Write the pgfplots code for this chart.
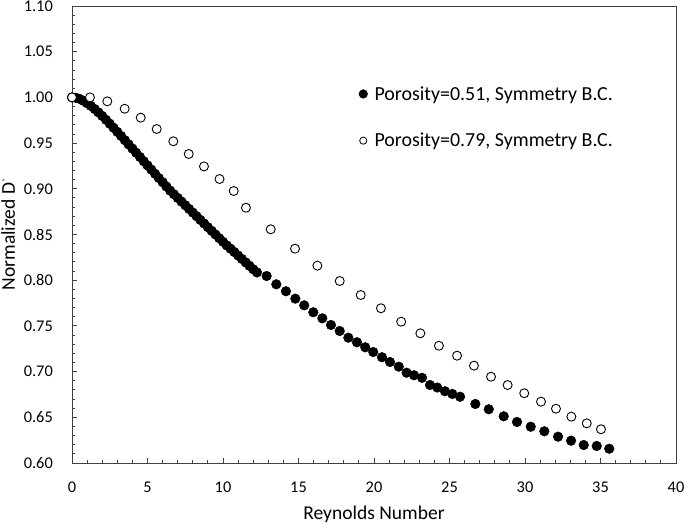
\documentclass[border=0pt]{standalone}
\usepackage{pgfplots}
\pgfplotsset{compat=1.18}
\usepackage{fontspec}
\setmainfont{Carlito}
\definecolor{axgray}{HTML}{404040}
\pgfplotsset{dotlegend/.style={legend image code/.code={\draw[##1] plot coordinates {(0cm,0cm)};}}}
\begin{document}
\begin{tikzpicture}
\begin{axis}[
  scale only axis, width=604bp, height=457bp,
  xmin=0, xmax=40, ymin=0.6, ymax=1.1, clip=false,
  xtick={0,5,10,15,20,25,30,35,40},
  ytick={0.60,0.65,0.70,0.75,0.80,0.85,0.90,0.95,1.00,1.05,1.10},
  yticklabels={0.60,0.65,0.70,0.75,0.80,0.85,0.90,0.95,1.00,1.05,1.10},
  minor x tick num=4, minor y tick num=4,
  tick align=inside, tick pos=left,
  major tick length=5.5bp, minor tick length=3.5bp,
  axis line style={axgray, line width=0.9bp},
  every tick/.style={axgray, line width=0.9bp},
  /pgf/number format/assume math mode=true,
  ticklabel style={font=\fontsize{16.4}{20}\selectfont, inner sep=0pt},
  xticklabel style={yshift=-19bp},
  yticklabel style={xshift=-19bp},
  xlabel={Reynolds Number},
  ylabel={Normalized D\kern0.6bp\raisebox{4bp}{\fontsize{12}{12}\selectfont\textasciigrave}},
  label style={font=\fontsize{19.6}{24}\selectfont},
  xlabel style={at={(axis description cs:0.5,-0.1247)}, anchor=base},
  ylabel style={at={(axis description cs:-0.0945,0.5)}, anchor=base},
  legend style={draw=none, fill=none, inner sep=0pt, at={(axis description cs:0.4748,0.829)}, anchor=north west,
    font=\fontsize{20}{24}\selectfont, row sep=27.5bp, column sep=5bp,
    nodes={inner sep=2bp}},
  legend cell align=left,
]
\addlegendimage{only marks, mark=*, mark size=4.3bp, mark options={fill=black, draw=black, line width=0.5bp}, dotlegend}
\addlegendentry{Porosity=0.51, Symmetry B.C.}
\addlegendimage{only marks, mark=*, mark size=3.6bp, mark options={fill=white, draw=black, line width=0.8bp}, dotlegend}
\addlegendentry{Porosity=0.79, Symmetry B.C.}
\addplot[forget plot, only marks, mark=*, mark size=4.8bp, mark options={fill=black, draw=black, line width=0.5bp}] coordinates {
(0,1.000) (0.25,0.9996) (0.5,0.9984) (0.75,0.9963) (1,0.9937) (1.25,0.9907) (1.5,0.9873) (1.75,0.9836)
(2,0.9797) (2.25,0.9755) (2.5,0.9712) (2.75,0.9668) (3,0.9623) (3.25,0.9578) (3.5,0.9532) (3.75,0.9486)
(4,0.9440) (4.25,0.9394) (4.5,0.9348) (4.75,0.9302) (5,0.9256) (5.25,0.9210) (5.5,0.9164) (5.75,0.9118)
(6,0.9072) (6.25,0.9025) (6.5,0.898) (6.75,0.894) (7,0.890) (7.25,0.886) (7.5,0.882) (7.75,0.878)
(8,0.874) (8.25,0.870) (8.5,0.866) (8.75,0.862) (9,0.858) (9.25,0.854) (9.5,0.850) (9.75,0.846)
(10,0.842) (10.25,0.838) (10.5,0.8345) (10.75,0.8308) (11,0.827) (11.25,0.8233) (11.5,0.8195) (11.75,0.8158)
(12,0.812) (12.25,0.8085)
(12.89,0.8046) (13.53,0.7955) (14.17,0.7879) (14.79,0.7798) (15.38,0.7725) (15.98,0.7649)
(16.58,0.7583) (17.15,0.7510) (17.73,0.7444) (18.30,0.7371) (18.87,0.7321) (19.42,0.7266)
(19.95,0.7214) (20.53,0.7157) (21.06,0.7105) (21.64,0.7054) (22.16,0.6988) (22.65,0.6960)
(23.18,0.6932) (23.71,0.6853) (24.19,0.6826) (24.70,0.6785) (25.19,0.6755) (25.70,0.6725)
(26.71,0.6646) (27.60,0.6588) (28.59,0.6511) (29.47,0.6449) (30.38,0.6397) (31.28,0.6347)
(32.19,0.6288) (33.05,0.6244) (33.89,0.6197) (34.75,0.6186) (35.58,0.6156)
};
\addplot[forget plot, only marks, mark=*, mark size=4.5bp, mark options={fill=white, draw=black, line width=0.9bp}] coordinates {
(0,1.000) (1.19,1.000) (2.34,0.9957) (3.49,0.9876) (4.55,0.9778) (5.61,0.9654) (6.71,0.9520)
(7.73,0.9381) (8.74,0.9245) (9.77,0.9107) (10.71,0.8976) (11.52,0.8793) (13.16,0.8557)
(14.77,0.8345) (16.25,0.8159) (17.73,0.7991) (19.12,0.7838) (20.46,0.7693) (21.80,0.7546)
(23.07,0.7419) (24.30,0.7283) (25.50,0.7174) (26.62,0.7065) (27.75,0.6944) (28.85,0.6853)
(29.95,0.6763) (31.06,0.6671) (32.05,0.6594) (33.07,0.6507) (34.09,0.6434) (35.03,0.6369)
};
\end{axis}
\pgfresetboundingbox
\path ([xshift=-72bp,yshift=-61bp]current axis.south west) rectangle ([xshift=9bp,yshift=6bp]current axis.north east);
\end{tikzpicture}
\end{document}
